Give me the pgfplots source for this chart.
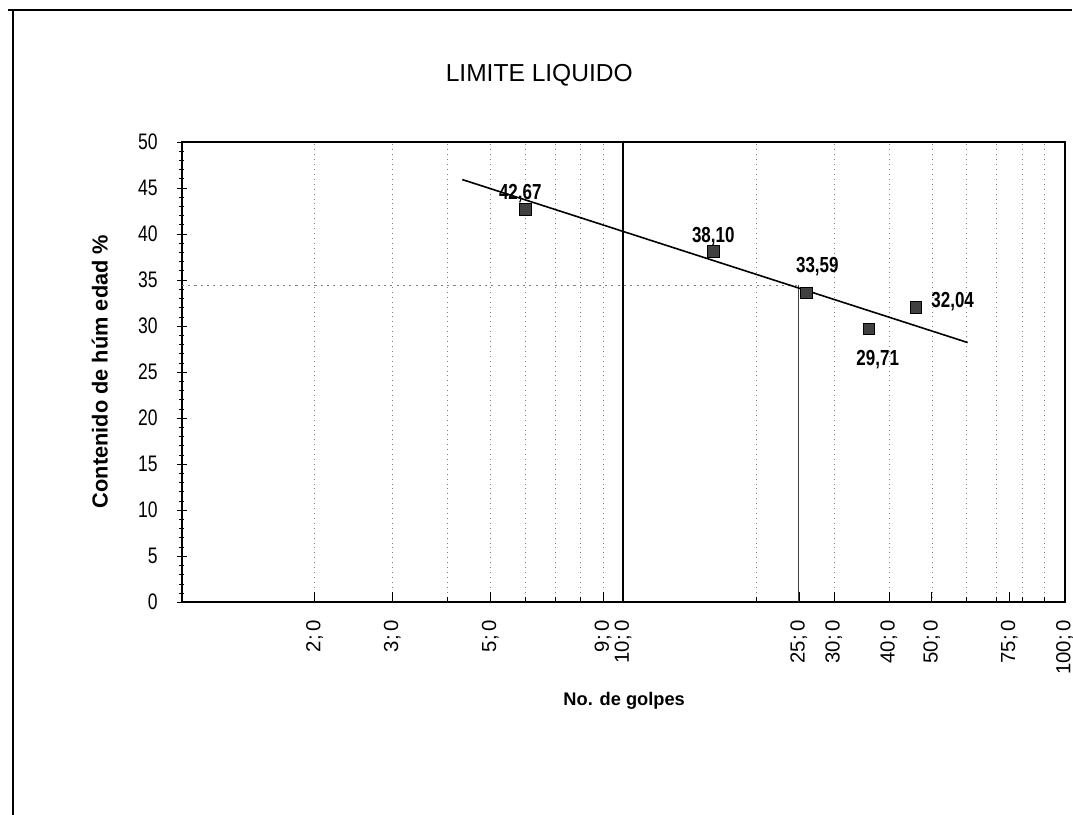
\documentclass[border=0pt]{standalone}
\usepackage{fontspec}
\setmainfont{Liberation Sans}
\newfontfamily\narrowfont[FakeStretch=0.78]{Liberation Sans}
\usepackage{pgfplots}
\pgfplotsset{compat=1.18}
\begin{document}
\begin{tikzpicture}
\begin{axis}[
  at={(45.5mm,53.25mm)}, anchor=south west,
  scale only axis, width=221mm, height=115.25mm,
  xmode=log, xmin=1, xmax=100, ymin=0, ymax=50,
  axis line style={line width=0.5mm},
  xtick={2,3,5,9,10,25,30,40,50,75,100},
  xticklabels={{2;\,0},{3;\,0},{5;\,0},{9;\,0},{10;\,0},{25;\,0},{30;\,0},{40;\,0},{50;\,0},{75;\,0},{100;\,0}},
  minor xtick={2,3,4,5,6,7,8,9,20,30,40,50,60,70,80,90},
  xminorgrids=true,
  minor x grid style={gray, line width=0.3pt, dash pattern=on 0.5pt off 3pt},
  xtick pos=bottom, ytick pos=left,
  xtick align=inside, ytick align=center,
  major tick length=2.5mm, minor tick length=1.2mm,
  every tick/.style={black, line width=0.35pt},
  xticklabel style={rotate=90, anchor=east, inner sep=0pt, font=\fontsize{14.5pt}{16pt}\selectfont},
  xticklabel shift=4.5mm,
  ytick={0,5,...,50},
  minor ytick={0,1,...,50},
  yticklabel style={anchor=east, inner sep=0pt, font=\narrowfont\fontsize{16pt}{18pt}\selectfont},
  yticklabel shift=4.75mm,
  /pgf/number format/assume math mode=true,
]
\addplot[no marks, line width=0.45mm, black] coordinates {(10,0) (10,50)};
\addplot[no marks, line width=0.3mm, black!75] coordinates {(25,0) (25,34.4)};
\addplot[no marks, gray, line width=0.35pt, dash pattern=on 1.5pt off 3pt] coordinates {(1,34.4) (25,34.4)};
\addplot[no marks, line width=0.4mm, black] coordinates {(4.32,45.9) (60.3,28.2)};
\addplot[only marks, mark=square*, mark size=1.45mm, mark options={fill=black!75, draw=black, line width=0.3pt}]
  coordinates {(6,42.67) (16,38.10) (26,33.59) (36,29.71) (46,32.04)};
\begin{scope}[every node/.style={font=\narrowfont\bfseries\fontsize{15.5pt}{17pt}\selectfont, inner sep=0pt, anchor=center}]
\node[xshift=-1.25mm, yshift=4mm] at (axis cs:6,42.67) {42,67};
\node[yshift=3.6mm] at (axis cs:16,38.10) {38,10};
\node[xshift=2.75mm, yshift=6.5mm] at (axis cs:26,33.59) {33,59};
\node[xshift=2.25mm, yshift=-7.75mm] at (axis cs:36,29.71) {29,71};
\node[xshift=9.25mm, yshift=1.5mm] at (axis cs:46,32.04) {32,04};
\end{scope}
\end{axis}
\begin{scope}[x=0.25mm, y=0.25mm]
\useasboundingbox (0,0) rectangle (1073,816);
\draw[line width=0.5mm] (8,806) -- (1073,806);
\draw[line width=0.5mm] (13,806) -- (13,0);
\node[font=\fontsize{17.5pt}{19pt}\selectfont] at (540,741) {LIMITE LIQUIDO};
\node[rotate=90, font=\bfseries\fontsize{15.5pt}{17pt}\selectfont] at (100,444) {Contenido de húm edad \%};
\node[font=\bfseries\fontsize{13pt}{15pt}\selectfont] at (625,114) {No. de golpes};
\end{scope}
\end{tikzpicture}
\end{document}
